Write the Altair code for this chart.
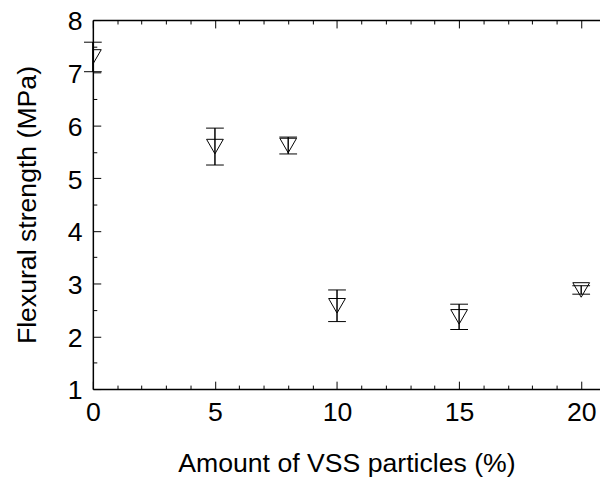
import altair as alt
import pandas as pd

amount = [0, 5, 8, 10, 15, 20]
strength = [7.30, 5.60, 5.62, 2.58, 2.37, 2.88]
error = [0.28, 0.35, 0.16, 0.30, 0.24, 0.08]

x_major = [0, 5, 10, 15, 20]
x_minor = [1, 2, 3, 4, 6, 7, 8, 9, 11, 12, 13, 14, 16, 17, 18, 19]
y_major = [1, 2, 3, 4, 5, 6, 7, 8]
y_minor = [1.5, 2.5, 3.5, 4.5, 5.5, 6.5, 7.5]

df = pd.DataFrame({"x": amount, "y": strength, "e": error})
df["lo"] = df["y"] - df["e"]
df["hi"] = df["y"] + df["e"]

W, H = 514, 374
FONT = "Liberation Sans"
FS = 27

xs = alt.Scale(domain=[0, 20.77], nice=False, zero=False)
ys = alt.Scale(domain=[1, 8], nice=False, zero=False)

def tick_axis(orient, values, size, offset, domain=False):
    return alt.Axis(orient=orient, values=values, tickSize=size, offset=offset,
                    labels=False, domain=domain, domainColor="black", domainWidth=1.5,
                    tickColor="black", tickWidth=1, title=None, grid=False)

base = alt.Chart(df)

points = base.mark_point(shape="triangle-down", size=289, filled=False,
                         stroke="black", strokeWidth=1, opacity=1, clip=True).encode(
    x=alt.X("x:Q", scale=xs, axis=alt.Axis(
        orient="bottom", values=x_major, tickSize=0, labelPadding=11, labelFlush=False,
        labelFontSize=FS, labelFont=FONT, labelColor="black",
        domainColor="black", domainWidth=1.5, grid=False,
        title="Amount of VSS particles (%)", titleFontSize=FS, titleFont=FONT,
        titleFontWeight="normal", titleColor="black", titlePadding=26)),
    y=alt.Y("y:Q", scale=ys, axis=alt.Axis(
        orient="left", values=y_major, tickSize=0, labelPadding=11, labelFlush=False,
        labelOffset=2,
        labelFontSize=FS, labelFont=FONT, labelColor="black",
        domainColor="black", domainWidth=1.5, grid=False,
        title="Flexural strength (MPa)", titleFontSize=FS, titleFont=FONT,
        titleFontWeight="normal", titleColor="black", titlePadding=26)),
)

rules = base.mark_rule(color="black", strokeWidth=1).encode(
    x=alt.X("x:Q", scale=xs, axis=tick_axis("top", x_major, 8, -H)),
    y=alt.Y("lo:Q", scale=ys, axis=tick_axis("right", y_major, 8, -W)),
    y2="hi:Q",
)

caps_hi = base.mark_tick(orient="horizontal", size=18, thickness=1, color="black", opacity=1).encode(
    x=alt.X("x:Q", scale=xs, axis=tick_axis("top", x_minor, 4, -H)),
    y=alt.Y("hi:Q", scale=ys, axis=tick_axis("right", y_minor, 4, -W)),
)

caps_lo = base.mark_tick(orient="horizontal", size=18, thickness=1, color="black", opacity=1).encode(
    x=alt.X("x:Q", scale=xs, axis=tick_axis("bottom", x_major, 8, -H, domain=True)),
    y=alt.Y("lo:Q", scale=ys, axis=None),
)

extra = base.mark_rule(color="black", strokeWidth=1).encode(
    x=alt.X("x:Q", scale=xs, axis=tick_axis("bottom", x_minor, 4, -H)),
    y=alt.Y("lo:Q", scale=ys, axis=None),
    y2="hi:Q",
)

chart = alt.layer(points, rules, caps_hi, caps_lo, extra).resolve_axis(
    x="independent", y="independent"
).properties(
    width=W, height=H,
    autosize=alt.AutoSizeParams(type="none"),
    padding={"left": 86, "top": 9, "right": 0, "bottom": 92},
).configure_view(stroke=None).configure(background="white")

chart.save("out.html", embed_options={"renderer": "svg", "actions": False})
